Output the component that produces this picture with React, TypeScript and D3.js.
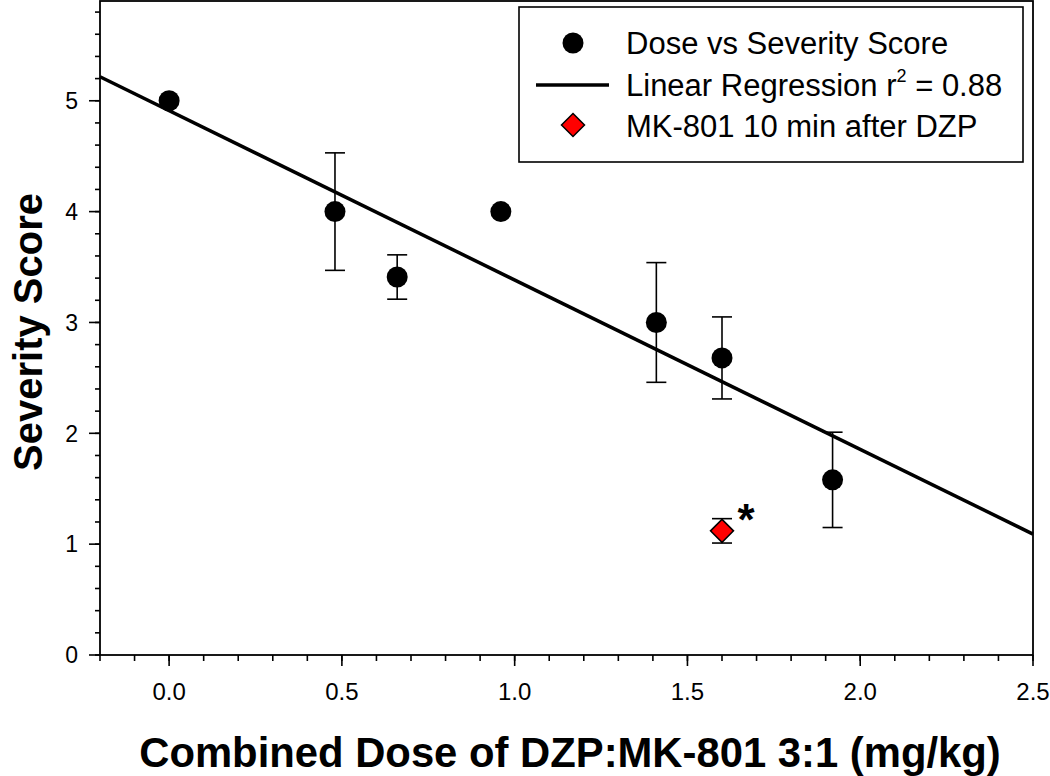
import React from "react";
import * as d3 from "d3";

// ---- data ----
const doses = [0.0, 0.48, 0.66, 0.96, 1.41, 1.6, 1.92];
const scores = [5.0, 4.0, 3.41, 4.0, 3.0, 2.68, 1.58];
const errors = [0, 0.53, 0.2, 0, 0.54, 0.37, 0.43];

const mkDose = [1.6];
const mkScore = [1.12];
const mkError = [0.11];

// linear regression coefficients (fit of the dose vs severity points)
const regIntercept = 4.911;
const regSlope = -1.528;
const regRange = [-0.2, 2.5];

const xMajorTicks = [0.0, 0.5, 1.0, 1.5, 2.0, 2.5];
const xMinorTicks = d3.range(-2, 26).map((i) => i / 10);
const yMajorTicks = [0, 1, 2, 3, 4, 5];
const yMinorTicks = d3.range(0, 30).map((i) => i / 5);

const legendLabels = ["Dose vs Severity Score", "Linear Regression r", "MK-801 10 min after DZP"];

const W = 1050;
const H = 776;
const FONT = "'Liberation Sans', Arial, Helvetica, sans-serif";

export default function App() {
  const x = d3.scaleLinear().domain([-0.2, 2.5]).range([100, 1033]);
  const y = d3.scaleLinear().domain([0, 5.9]).range([655, 1]);
  const line = d3
    .line<number>()
    .x((d) => x(d))
    .y((d) => y(regIntercept + regSlope * d));

  const cap = 10;
  const diamond = (cx: number, cy: number, r: number) =>
    `M${cx},${cy - r}L${cx + r},${cy}L${cx},${cy + r}L${cx - r},${cy}Z`;

  return (
    <svg
      width={W}
      height={H}
      style={{ position: "absolute", left: 0, top: 0, background: "#fff" }}
      fontFamily={FONT}
    >
      {/* regression line */}
      <path d={line(regRange) || ""} stroke="#000" strokeWidth={3.5} fill="none" />

      {/* error bars for main series */}
      {doses.map((d, i) =>
        errors[i] > 0 ? (
          <g key={"e" + i} stroke="#000" strokeWidth={1.6}>
            <line x1={x(d)} x2={x(d)} y1={y(scores[i] + errors[i])} y2={y(scores[i] - errors[i])} />
            <line x1={x(d) - cap} x2={x(d) + cap} y1={y(scores[i] + errors[i])} y2={y(scores[i] + errors[i])} />
            <line x1={x(d) - cap} x2={x(d) + cap} y1={y(scores[i] - errors[i])} y2={y(scores[i] - errors[i])} />
          </g>
        ) : null
      )}
      {doses.map((d, i) => (
        <circle key={"c" + i} cx={x(d)} cy={y(scores[i])} r={10.5} fill="#000" />
      ))}

      {/* MK-801 series */}
      {mkDose.map((d, i) => (
        <g key={"m" + i}>
          <g stroke="#000" strokeWidth={1.6}>
            <line x1={x(d)} x2={x(d)} y1={y(mkScore[i] + mkError[i])} y2={y(mkScore[i] - mkError[i])} />
            <line x1={x(d) - cap} x2={x(d) + cap} y1={y(mkScore[i] + mkError[i])} y2={y(mkScore[i] + mkError[i])} />
            <line x1={x(d) - cap} x2={x(d) + cap} y1={y(mkScore[i] - mkError[i])} y2={y(mkScore[i] - mkError[i])} />
          </g>
          <path d={diamond(x(d), y(mkScore[i]), 11.5)} fill="#ff0000" stroke="#000" strokeWidth={1.5} />
          <text x={x(d) + 24} y={y(mkScore[i]) + 4} fontSize={44} fontWeight="bold" textAnchor="middle">
            *
          </text>
        </g>
      ))}

      {/* frame */}
      <rect x={100} y={1} width={933} height={654} fill="none" stroke="#000" strokeWidth={1.8} />

      {/* axis ticks */}
      <g stroke="#000" strokeWidth={1.6}>
        {xMinorTicks.map((t) => (
          <line key={"xm" + t} x1={x(t)} x2={x(t)} y1={655} y2={661} />
        ))}
        {xMajorTicks.map((t) => (
          <line key={"xM" + t} x1={x(t)} x2={x(t)} y1={655} y2={666} />
        ))}
        {yMinorTicks.map((t) => (
          <line key={"ym" + t} x1={95} x2={100} y1={y(t)} y2={y(t)} />
        ))}
        {yMajorTicks.map((t) => (
          <line key={"yM" + t} x1={89} x2={100} y1={y(t)} y2={y(t)} />
        ))}
      </g>
      {xMajorTicks.map((t) => (
        <text key={"xl" + t} x={x(t)} y={700} fontSize={24} textAnchor="middle">
          {d3.format(".1f")(t)}
        </text>
      ))}
      {yMajorTicks.map((t) => (
        <text key={"yl" + t} x={78} y={y(t)} dy="0.36em" fontSize={23} textAnchor="end">
          {t}
        </text>
      ))}

      {/* axis titles */}
      <text x={570} y={767} fontSize={41.8} fontWeight="bold" textAnchor="middle">
        Combined Dose of DZP:MK-801 3:1 (mg/kg)
      </text>
      <text
        transform="translate(42,332) rotate(-90)"
        fontSize={40}
        fontWeight="bold"
        textAnchor="middle"
      >
        Severity Score
      </text>

      {/* legend */}
      <rect x={519} y={7} width={504} height={155} fill="#fff" stroke="#000" strokeWidth={1.6} />
      <circle cx={573} cy={43} r={10.5} fill="#000" />
      <line x1={536} x2={609} y1={85} y2={85} stroke="#000" strokeWidth={3.5} />
      <path d={diamond(573, 125, 11.5)} fill="#ff0000" stroke="#000" strokeWidth={1.5} />
      <text x={626} y={54} fontSize={31}>
        {legendLabels[0]}
      </text>
      <text x={626} y={96} fontSize={31}>
        {legendLabels[1]}
        <tspan fontSize={18} dy={-14}>2</tspan>
        <tspan dy={14}>{" = 0.88"}</tspan>
      </text>
      <text x={626} y={137} fontSize={31}>
        {legendLabels[2]}
      </text>
    </svg>
  );
}
